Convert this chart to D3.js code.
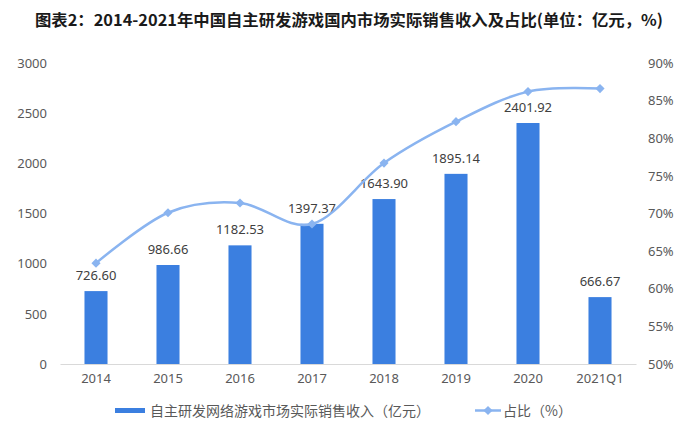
<!DOCTYPE html>
<html>
<head>
<meta charset="utf-8">
<script src="https://cdn.jsdelivr.net/npm/d3@7"></script>
<style>
  body { margin: 0; background: #fff; }
  svg { display: block; font-family: "Noto Sans", "Noto Sans CJK SC", sans-serif; }
</style>
</head>
<body>
<div id="chart"></div>
<script>
// data
const years = ["2014", "2015", "2016", "2017", "2018", "2019", "2020", "2021Q1"];
const revenue = [726.60, 986.66, 1182.53, 1397.37, 1643.90, 1895.14, 2401.92, 666.67];
const share = [0.634, 0.701, 0.714, 0.686, 0.767, 0.822, 0.862, 0.866];
const leftTicks = [0, 500, 1000, 1500, 2000, 2500, 3000];
const rightTicks = [0.5, 0.55, 0.6, 0.65, 0.7, 0.75, 0.8, 0.85, 0.9];

const titleText = "图表2：2014-2021年中国自主研发游戏国内市场实际销售收入及占比(单位：亿元，%)";
const barName = "自主研发网络游戏市场实际销售收入（亿元）";
const lineName = "占比（%）";

const width = 700, height = 431;
const barColor = "#3b7fe0";
const lineColor = "#8ab4f0";

const svg = d3.select("#chart").append("svg")
    .attr("width", width)
    .attr("height", height);

// title
svg.append("text")
    .attr("x", 35)
    .attr("y", 26)
    .attr("textLength", 628)
    .attr("lengthAdjust", "spacingAndGlyphs")
    .style("font-family", "'Noto Sans CJK SC', sans-serif")
    .style("font-weight", "bold")
    .style("font-size", "16px")
    .style("fill", "#1a1a1a")
    .text(titleText);

let x = d3.scaleBand()
    .domain(years)
    .range([60, 636])
    .paddingInner(0.68)
    .paddingOuter(0.34);

let y = d3.scaleLinear().domain([0, 3000]).range([364, 63]);
let y2 = d3.scaleLinear().domain([0.5, 0.9]).range([364, 63]);

// left axis
let leftAxis = svg.append("g")
    .attr("transform", "translate(47,0)")
    .call(d3.axisLeft(y).tickValues(leftTicks).tickSize(0).tickPadding(0)
        .tickFormat(d3.format("d")));
leftAxis.select(".domain").remove();
leftAxis.selectAll("text")
    .style("font-size", "13px")
    .style("font-family", "'Noto Sans', sans-serif")
    .style("fill", "#595959");

// right axis
let rightAxis = svg.append("g")
    .attr("transform", "translate(648,0)")
    .call(d3.axisRight(y2).tickValues(rightTicks).tickSize(0).tickPadding(0)
        .tickFormat(d3.format(".0%")));
rightAxis.select(".domain").remove();
rightAxis.selectAll("text")
    .style("font-size", "13px")
    .style("font-family", "'Noto Sans', sans-serif")
    .style("fill", "#595959");

// bottom axis
let bottomAxis = svg.append("g")
    .attr("transform", "translate(0,364)")
    .call(d3.axisBottom(x).tickSize(0).tickPadding(10));
bottomAxis.select(".domain")
    .attr("stroke", "#d9d9d9")
    .attr("stroke-width", 1);
bottomAxis.selectAll("text")
    .style("font-size", "13px")
    .style("font-family", "'Noto Sans', sans-serif")
    .style("fill", "#595959");

// bars
svg.append("g").selectAll("rect")
    .data(revenue)
    .join("rect")
    .attr("x", (d, i) => x(years[i]))
    .attr("y", d => y(d))
    .attr("width", x.bandwidth())
    .attr("height", d => y(0) - y(d))
    .attr("fill", barColor);

// bar labels
svg.append("g").selectAll("text")
    .data(revenue)
    .join("text")
    .attr("x", (d, i) => x(years[i]) + x.bandwidth() / 2)
    .attr("y", d => y(d) - 11)
    .attr("text-anchor", "middle")
    .style("font-size", "13px")
    .style("fill", "#404040")
    .text(d => d3.format(".2f")(d));

// share line
let line = d3.line()
    .x((d, i) => x(years[i]) + x.bandwidth() / 2)
    .y(d => y2(d))
    .curve(d3.curveCardinal.tension(0));

svg.append("path")
    .datum(share)
    .attr("d", line)
    .attr("fill", "none")
    .attr("stroke", lineColor)
    .attr("stroke-width", 2.5);

let diamond = d3.symbol().type(d3.symbolSquare).size(42);
svg.append("g").selectAll("path")
    .data(share)
    .join("path")
    .attr("d", diamond)
    .attr("transform", (d, i) => "translate(" + (x(years[i]) + x.bandwidth() / 2) + "," + y2(d) + ") rotate(45)")
    .attr("fill", lineColor);

// legend
let legend = svg.append("g");
legend.append("rect")
    .attr("x", 115).attr("y", 408)
    .attr("width", 30).attr("height", 5)
    .attr("fill", barColor);
legend.append("text")
    .attr("x", 150).attr("y", 416)
    .style("font-family", "'Noto Sans CJK SC', sans-serif")
    .style("font-size", "14px")
    .style("fill", "#595959")
    .text(barName);
legend.append("line")
    .attr("x1", 475).attr("x2", 501)
    .attr("y1", 410.5).attr("y2", 410.5)
    .attr("stroke", lineColor)
    .attr("stroke-width", 2.5);
legend.append("path")
    .attr("d", diamond)
    .attr("transform", "translate(488,410.5) rotate(45)")
    .attr("fill", lineColor);
legend.append("text")
    .attr("x", 503).attr("y", 416)
    .style("font-family", "'Noto Sans CJK SC', sans-serif")
    .style("font-size", "14px")
    .style("fill", "#595959")
    .text(lineName);
</script>
</body>
</html>
